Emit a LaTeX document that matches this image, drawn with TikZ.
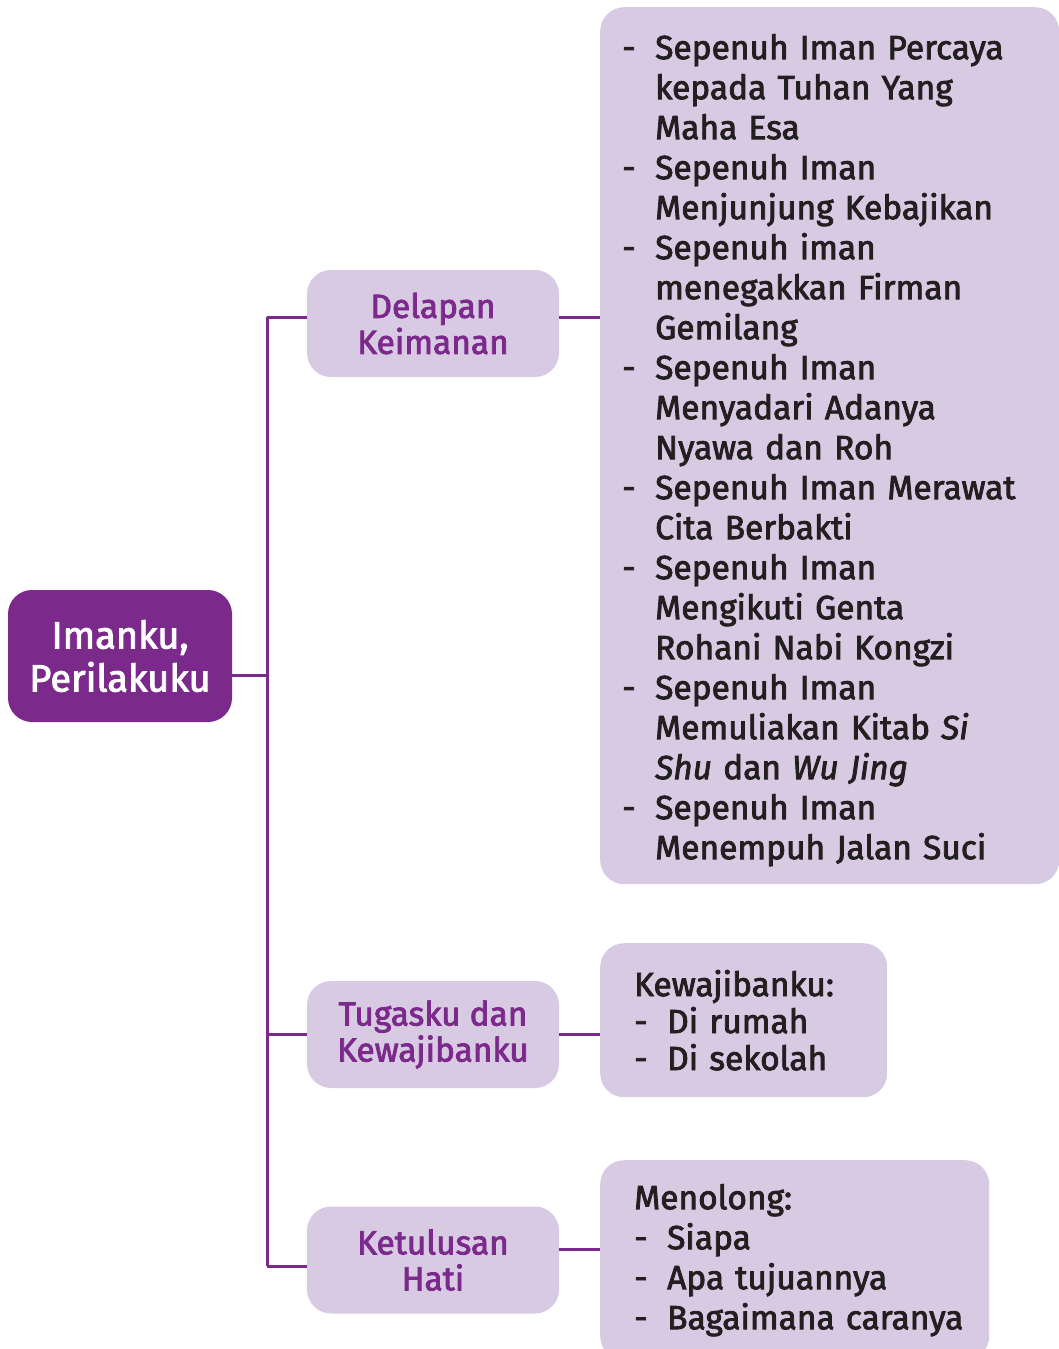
\documentclass[tikz,border=0pt]{standalone}
\usepackage{fontspec}
\setmainfont{Fira Sans}[UprightFeatures={FakeBold=2.4}, ItalicFeatures={FakeBold=2.4}]
\usepackage{xcolor}
\usetikzlibrary{positioning}
\definecolor{deep}{HTML}{7B2A8C}
\definecolor{lilac}{HTML}{D9CAE4}
\definecolor{ink}{HTML}{231F20}
\newcommand{\itm}[1]{\mbox{\makebox[33pt][l]{-}#1}}
\newcommand{\cont}[1]{\mbox{\hspace*{33pt}#1}}
\newcommand{\hd}[1]{\mbox{#1}}

\begin{document}
\begin{tikzpicture}[x=1pt, y=-1pt,
  box/.style={rounded corners=24pt, inner sep=0pt, align=center},
  rootbox/.style={box, fill=deep, text=white, minimum width=224pt,
                  minimum height=132pt, font=\fontsize{38}{43}\selectfont},
  topic/.style={box, fill=lilac, text=deep, minimum width=252pt,
                minimum height=107pt, font=\fontsize{33.5}{36}\selectfont},
  list/.style={rounded corners=24pt, fill=lilac, text=ink, anchor=north west,
               align=left, inner ysep=0pt},
  link/.style={draw=deep, line width=3pt}]
\useasboundingbox (0,0) rectangle (1059,1349);
\node[rootbox] (root) at (120,656) {Imanku,\\Perilakuku};
\node[topic] (delapan) at (433,323.5) {Delapan\\Keimanan};
\node[topic] (tugasku) at (433,1034.5) {Tugasku dan\\Kewajibanku};
\node[topic] (ketulusan) at (433,1260) {Ketulusan\\Hati};
\node[list, minimum height=877pt, inner xsep=22pt, text width=415pt,
      font=\fontsize{33.5}{40}\selectfont] (iman) at (600,7)
  {\rule{0pt}{34pt}\itm{Sepenuh Iman Percaya}\\ \cont{kepada Tuhan Yang}\\ \cont{Maha Esa}\\
   \itm{Sepenuh Iman}\\ \cont{Menjunjung Kebajikan}\\
   \itm{Sepenuh iman}\\ \cont{menegakkan Firman}\\ \cont{Gemilang}\\
   \itm{Sepenuh Iman}\\ \cont{Menyadari Adanya}\\ \cont{Nyawa dan Roh}\\
   \itm{Sepenuh Iman Merawat}\\ \cont{Cita Berbakti}\\
   \itm{Sepenuh Iman}\\ \cont{Mengikuti Genta}\\ \cont{Rohani Nabi Kongzi}\\
   \itm{Sepenuh Iman}\\ \cont{Memuliakan Kitab \textit{Si}}\\
   \cont{\textit{Shu} dan \textit{Wu Jing}}\\
   \itm{Sepenuh Iman}\\ \cont{Menempuh Jalan Suci}};
\node[list, minimum height=154pt, inner xsep=34pt, text width=219pt,
      font=\fontsize{33.5}{37}\selectfont] (wajib) at (600,943)
  {\hd{Kewajibanku:}\\ \itm{Di rumah}\\ \itm{Di sekolah}};
\node[list, minimum height=200pt, inner xsep=34pt, text width=321pt,
      font=\fontsize{33.5}{40}\selectfont] (tolong) at (600,1160)
  {\hd{Menolong:}\\ \itm{Siapa}\\ \itm{Apa tujuannya}\\ \itm{Bagaimana caranya}};
\coordinate (top) at (267,317);
\coordinate (mid) at (267,675);
\coordinate (bot) at (267,1266);
\draw[link] (top) -- (bot);
\draw[link] (root.east |- mid) -- (mid);
\draw[link] (top) -- (top -| delapan.west);
\draw[link] (tugasku.west) -- (tugasku.west -| top);
\draw[link] (bot) -- (bot -| ketulusan.west);
\draw[link] (top -| delapan.east) -- (top -| iman.west);
\draw[link] (tugasku.east) -- (tugasku.east -| wajib.west);
\draw[link] ([yshift=11pt]ketulusan.east) -- ([yshift=11pt]ketulusan.east -| tolong.west);
\end{tikzpicture}
\end{document}
